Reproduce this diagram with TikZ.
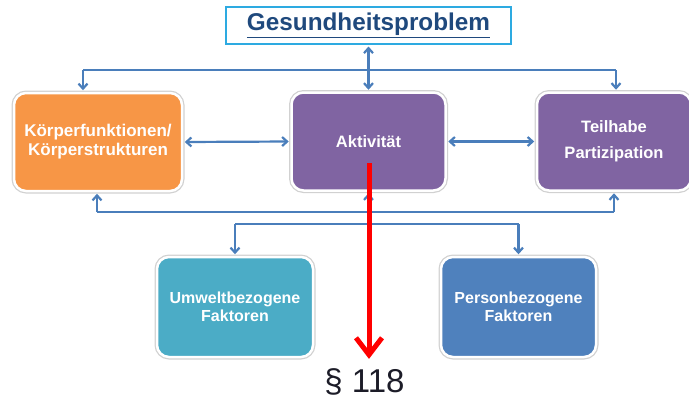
\documentclass[tikz,border=0pt]{standalone}
\usepackage{fontspec}
\setmainfont{Liberation Sans}
\usetikzlibrary{arrows.meta,calc}
\definecolor{connc}{HTML}{4A7EBB}
\definecolor{gtitle}{HTML}{1F497D}
\definecolor{gborder}{HTML}{2DAAE1}
\definecolor{orangebox}{HTML}{F79646}
\definecolor{purplebox}{HTML}{8064A2}
\definecolor{tealbox}{HTML}{4BACC6}
\definecolor{bluebox}{HTML}{4F81BD}
\definecolor{partext}{HTML}{1C1C28}
\begin{document}
\begin{tikzpicture}[x=1pt,y=-1pt,
  box/.style={rounded corners=12pt, fill=#1, draw=white, line width=2.5pt,
    preaction={draw=black!18, line width=5pt}, text=white, align=center,
    inner sep=0pt, font=\bfseries\fontsize{16.5}{19}\selectfont},
  conn/.style={draw=connc, line width=2.2pt},
  tipend/.style={-{Straight Barb[length=5pt,width=9pt]}, shorten >=1.5pt},
  tipboth/.style={{Straight Barb[length=5pt,width=9pt]}-{Straight Barb[length=5pt,width=9pt]}, shorten >=1.5pt, shorten <=1.5pt},
  redarrow/.style={draw=red, line width=5pt, -{Straight Barb[length=17pt,width=26pt]}}]
\useasboundingbox (0,0) rectangle (689,400);
\clip (0,0) rectangle (689,400);

% title
\node[draw=gborder, line width=2pt, minimum width=285pt, minimum height=37pt, inner sep=0pt,
  text=gtitle, font=\bfseries\fontsize{24.3}{28}\selectfont] (g) at (368.5,25.5)
  {\underline{Gesundheitsproblem}};

% main boxes
\node[box=orangebox, minimum width=168pt, minimum height=98pt, font=\bfseries\fontsize{17}{19}\selectfont]
  (kf) at (98,142) {Körperfunktionen/\\Körperstrukturen};
\node[box=purplebox, minimum width=154pt, minimum height=98pt] (akt) at (368.5,141.5) {Aktivität};
\node[box=purplebox, minimum width=154pt, minimum height=98pt, font=\bfseries\fontsize{16.5}{26}\selectfont]
  (tp) at (614,141.5) {Teilhabe\\Partizipation};

% lower boxes
\node[box=tealbox, minimum width=156pt, minimum height=100pt, font=\bfseries\fontsize{16}{18}\selectfont]
  (uw) at (235,307) {Umweltbezogene\\Faktoren};
\node[box=bluebox, minimum width=155pt, minimum height=100pt, font=\bfseries\fontsize{16}{18}\selectfont]
  (pb) at (518.5,307) {Personbezogene\\Faktoren};

% paragraph
\node[anchor=base, inner sep=0pt, text=partext, font=\fontsize{33}{38}\selectfont] (par) at (364.5,392) {§ 118};

% coordinates
\coordinate (tl) at (83,70);
\coordinate (tr) at (616,70);
\coordinate (bl) at (97,212);
\coordinate (bm) at (368.5,212);
\coordinate (br) at (614,212);
\coordinate (ll) at (235,224);
\coordinate (lr) at (518.5,224);
\coordinate (rs) at (369,163);

% connectors
\draw[conn, tipboth] (g.south) -- (akt.north);
\draw[conn] (tl) -- (tr);
\draw[conn, tipend] (tl) -- (tl |- kf.north);
\draw[conn, tipend] (tr) -- (tr |- tp.north);
\draw[conn, tipboth] (kf.east) -- (akt.west);
\draw[conn, tipboth] (akt.east) -- (tp.west);
\draw[conn] (bl) -- (br);
\draw[conn, tipend] (bl) -- (bl |- kf.south);
\draw[conn, tipend] (bm) -- (akt.south);
\draw[conn, tipend] (br) -- (br |- tp.south);
\draw[conn] (ll) -- (lr);
\draw[conn, tipend] (ll) -- (uw.north);
\draw[conn, tipend] (lr) -- (pb.north);

% red arrow
\draw[redarrow] (rs) -- ($(rs |- par.north)+(0,-9)$);
\end{tikzpicture}
\end{document}
